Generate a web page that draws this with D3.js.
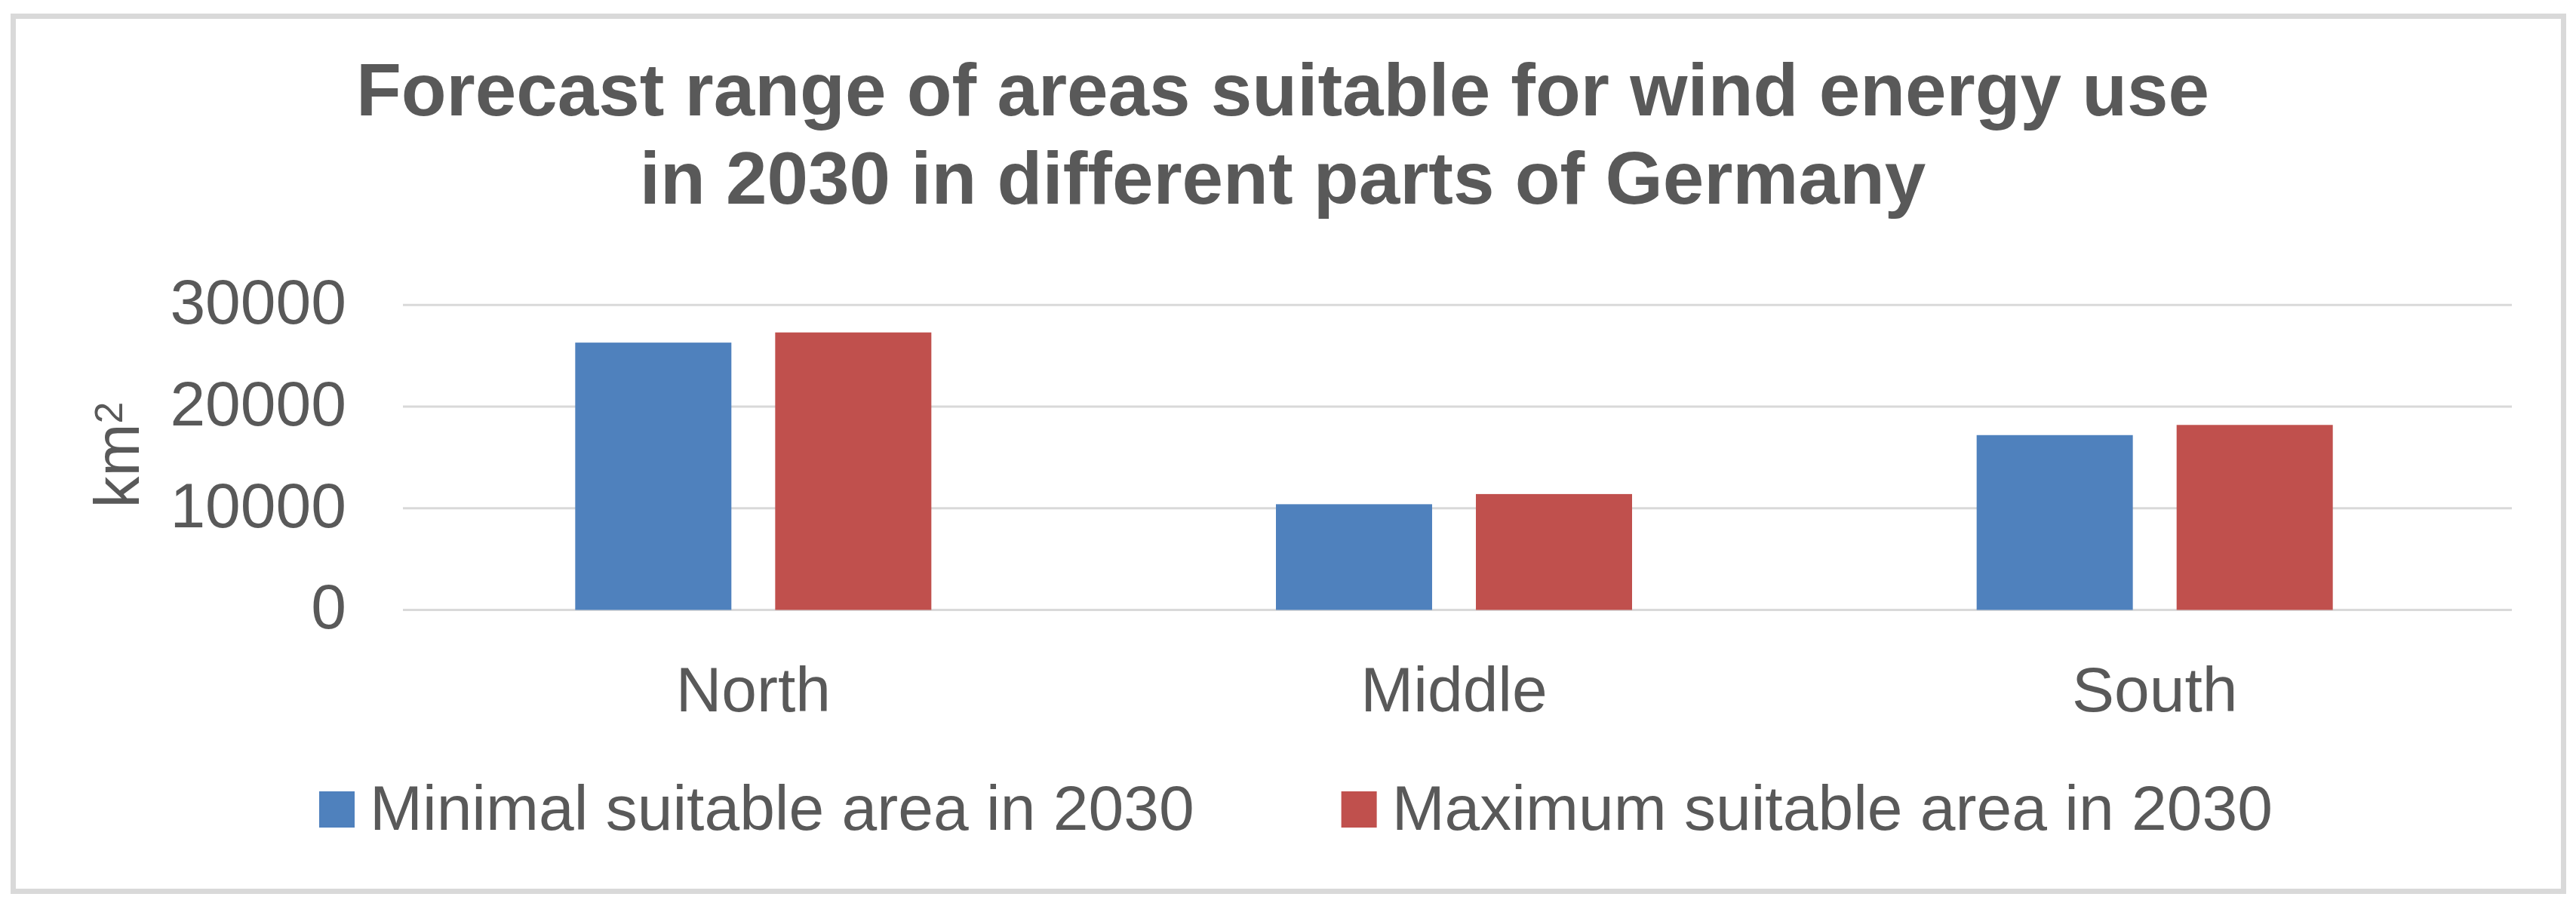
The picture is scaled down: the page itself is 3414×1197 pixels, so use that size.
<!DOCTYPE html>
<html lang="en">
<head>
  <meta charset="UTF-8">
  <script src="https://d3js.org/d3.v7.min.js"></script>
  <style>
    body { margin: 0; background: #fff; }
    text { font-family: "Liberation Sans", Arial, sans-serif; fill: #595959; }
  </style>
</head>
<body>
<div id="my_dataviz"></div>
<script>
// data
var regions = ["North", "Middle", "South"];
var seriesNames = ["Minimal suitable area in 2030", "Maximum suitable area in 2030"];
var minArea = [26300, 10400, 17200];
var maxArea = [27300, 11400, 18200];
var yTicks = [0, 10000, 20000, 30000];
var colors = ["#4f81bd", "#c0504d"];
var titleLines = ["Forecast range of areas suitable for wind energy use",
                  "in 2030 in different parts of Germany"];

var W = 3414, H = 1197;
var plotLeft = 534, plotRight = 3320, plotTop = 404.3, plotBottom = 808.5;

var svg = d3.select("#my_dataviz")
  .append("svg")
  .attr("width", W)
  .attr("height", H);

// outer frame
svg.append("rect")
  .attr("x", 17.5).attr("y", 21.5)
  .attr("width", 3380).attr("height", 1160)
  .attr("fill", "#fff")
  .attr("stroke", "#d9d9d9")
  .attr("stroke-width", 7);

// title
svg.append("g").selectAll("text")
  .data(titleLines)
  .enter()
  .append("text")
    .attr("x", 1700)
    .attr("y", function(d, i) { return 153 + i * 117; })
    .attr("text-anchor", "middle")
    .style("font-size", "98px")
    .style("font-weight", "bold")
    .text(function(d) { return d; });

// scales
var x = d3.scaleBand()
  .domain(regions)
  .range([plotLeft, plotRight])
  .padding(0);

var groupW = 472;
var xSub = d3.scaleBand()
  .domain(seriesNames)
  .range([(x.bandwidth() - groupW) / 2, (x.bandwidth() + groupW) / 2])
  .paddingInner(0.219);

var y = d3.scaleLinear()
  .domain([0, 30000])
  .range([plotBottom, plotTop]);

// gridlines
svg.append("g").selectAll("line")
  .data(yTicks)
  .enter()
  .append("line")
    .attr("x1", plotLeft)
    .attr("x2", plotRight + 9)
    .attr("y1", function(d) { return y(d); })
    .attr("y2", function(d) { return y(d); })
    .attr("stroke", "#d9d9d9")
    .attr("stroke-width", 3);

// y axis labels
var yAxis = svg.append("g")
  .attr("transform", "translate(" + plotLeft + ",0)")
  .call(d3.axisLeft(y).tickValues(yTicks).tickSize(0).tickPadding(75).tickFormat(d3.format("d")));
yAxis.select(".domain").remove();
yAxis.selectAll("text")
  .attr("dy", "0.29em")
  .style("font-size", "84px")
  .style("font-family", "'Liberation Sans', Arial, sans-serif")
  .attr("fill", "#595959");

// x axis labels
var xAxis = svg.append("g")
  .attr("transform", "translate(0," + plotBottom + ")")
  .call(d3.axisBottom(x).tickSize(0).tickPadding(134));
xAxis.select(".domain").remove();
xAxis.selectAll("text")
  .attr("dy", "0")
  .style("font-size", "84px")
  .style("font-family", "'Liberation Sans', Arial, sans-serif")
  .attr("fill", "#595959");

// y axis title km²
var yTitle = svg.append("text")
  .attr("transform", "translate(184,603) rotate(-90)")
  .attr("text-anchor", "middle")
  .style("font-size", "84px");
yTitle.append("tspan").text("km");
yTitle.append("tspan").attr("dy", "-0.42em").style("font-size", "52px").text("2");

// bars
var rows = regions.map(function(r, i) { return { region: r, values: [minArea[i], maxArea[i]] }; });

svg.append("g").selectAll("g")
  .data(rows)
  .enter()
  .append("g")
    .attr("transform", function(d) { return "translate(" + x(d.region) + ",0)"; })
  .selectAll("rect")
  .data(function(d) { return d.values.map(function(v, j) { return { key: seriesNames[j], value: v, idx: j }; }); })
  .enter()
  .append("rect")
    .attr("x", function(d) { return xSub(d.key); })
    .attr("y", function(d) { return y(d.value); })
    .attr("width", xSub.bandwidth())
    .attr("height", function(d) { return y(0) - y(d.value); })
    .attr("fill", function(d) { return colors[d.idx]; });

// legend
var legend = svg.append("g");
var lx = 423;
seriesNames.forEach(function(name, i) {
  var item = legend.append("g").attr("transform", "translate(" + lx + ",0)");
  item.append("rect")
    .attr("x", 0).attr("y", 1049)
    .attr("width", 47).attr("height", 48)
    .attr("fill", colors[i]);
  var t = item.append("text")
    .attr("x", 67).attr("y", 1100)
    .style("font-size", "84px")
    .text(name);
  lx += 67 + t.node().getComputedTextLength() + 195;
});
</script>
</body>
</html>
